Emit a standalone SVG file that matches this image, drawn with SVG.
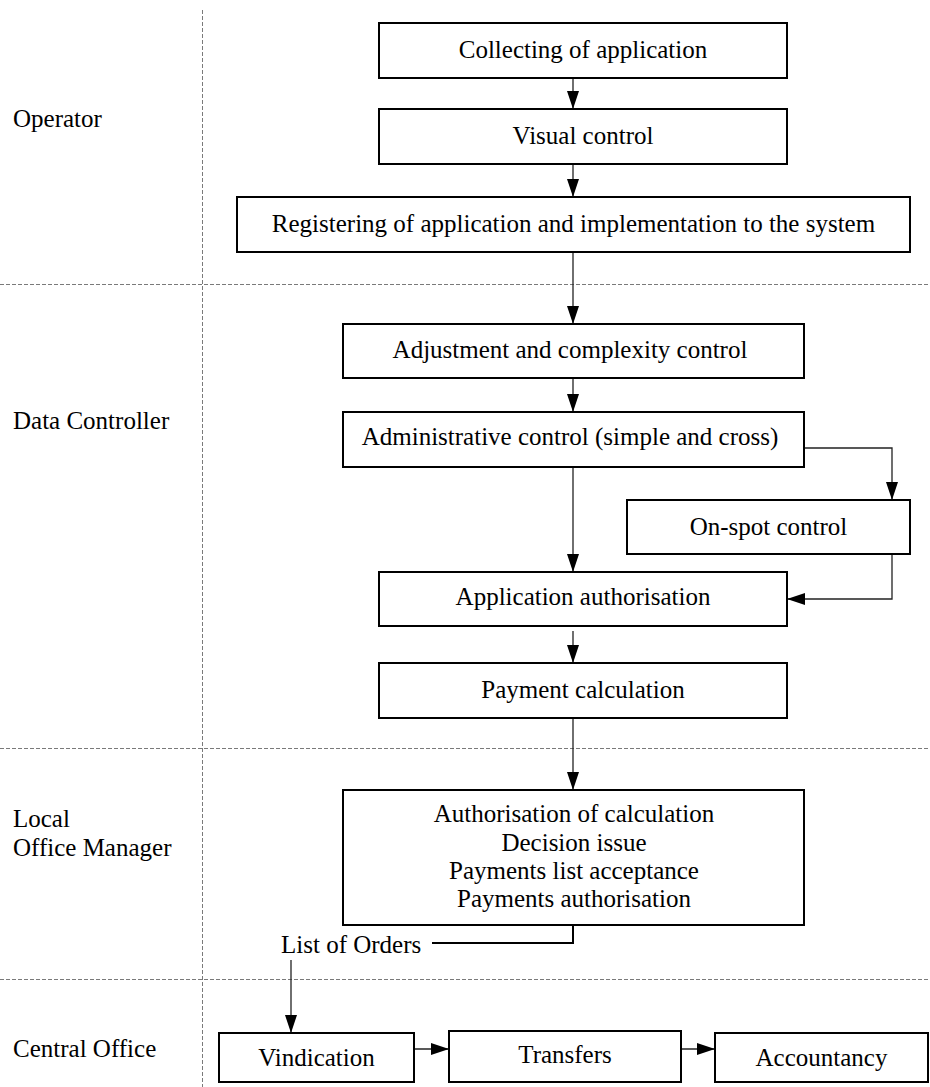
<svg xmlns="http://www.w3.org/2000/svg" width="930" height="1087" viewBox="0 0 930 1087">
  <style>
    .box { fill: #fff; stroke: #000; stroke-width: 2; }
    .lbl { font-family: "Liberation Serif", "Times New Roman", serif; font-size: 25px; fill: #000; }
    .mid { text-anchor: middle; }
    .lane { stroke: #7a7a7a; stroke-width: 1; stroke-dasharray: 4 2; fill: none; }
    .conn { stroke: #222; stroke-width: 1.3; fill: none; }
    .thick { stroke: #000; stroke-width: 2; fill: none; }
  </style>
  <defs>
    <marker id="arrow" markerUnits="userSpaceOnUse" markerWidth="18" markerHeight="12" refX="18" refY="6" orient="auto">
      <path d="M0,0 L18,6 L0,12 z" fill="#000"/>
    </marker>
  </defs>

  <rect width="930" height="1087" fill="#fff"/>

  <!-- swimlane separators -->
  <g id="lanes">
    <line class="lane" x1="202.5" y1="10" x2="202.5" y2="1087"/>
    <line class="lane" x1="0" y1="284.5" x2="930" y2="284.5"/>
    <line class="lane" x1="0" y1="748.5" x2="930" y2="748.5"/>
    <line class="lane" x1="0" y1="979.5" x2="930" y2="979.5"/>
  </g>

  <!-- lane titles -->
  <g id="lane-titles">
    <text class="lbl" x="13" y="127">Operator</text>
    <text class="lbl" x="13" y="429">Data Controller</text>
    <text class="lbl" x="13" y="827">Local</text>
    <text class="lbl" x="13" y="856">Office Manager</text>
    <text class="lbl" x="13" y="1057">Central Office</text>
  </g>

  <!-- connectors -->
  <g id="connectors">
    <line class="conn" x1="573" y1="78" x2="573" y2="109" marker-end="url(#arrow)"/>
    <line class="conn" x1="573" y1="164" x2="573" y2="197" marker-end="url(#arrow)"/>
    <line class="conn" x1="573" y1="252" x2="573" y2="324" marker-end="url(#arrow)"/>
    <line class="conn" x1="573" y1="378" x2="573" y2="412" marker-end="url(#arrow)"/>
    <line class="conn" x1="573" y1="467" x2="573" y2="572" marker-end="url(#arrow)"/>
    <polyline class="conn" points="804,448 892,448 892,500" marker-end="url(#arrow)"/>
    <polyline class="conn" points="892,554 892,599 787,599" marker-end="url(#arrow)"/>
    <line class="conn" x1="573" y1="631" x2="573" y2="663" marker-end="url(#arrow)"/>
    <line class="conn" x1="573" y1="718" x2="573" y2="790" marker-end="url(#arrow)"/>
    <polyline class="thick" points="573,925 573,943 432,943"/>
    <line class="conn" x1="291" y1="960" x2="291" y2="1033" marker-end="url(#arrow)"/>
    <line class="conn" x1="414" y1="1049" x2="449" y2="1049" marker-end="url(#arrow)"/>
    <line class="conn" x1="681" y1="1049" x2="715" y2="1049" marker-end="url(#arrow)"/>
  </g>

  <!-- process steps -->
  <g id="collecting">
    <rect class="box" x="379" y="23" width="408" height="55"/>
    <text class="lbl mid" x="583" y="58">Collecting of application</text>
  </g>
  <g id="visual-control">
    <rect class="box" x="379" y="109" width="408" height="55"/>
    <text class="lbl mid" x="583" y="144">Visual control</text>
  </g>
  <g id="registering">
    <rect class="box" x="237" y="197" width="673" height="55"/>
    <text class="lbl mid" x="573.5" y="231.5">Registering of application and implementation to the system</text>
  </g>
  <g id="adjustment">
    <rect class="box" x="343" y="324" width="461" height="54"/>
    <text class="lbl mid" x="570" y="358">Adjustment and complexity control</text>
  </g>
  <g id="administrative">
    <rect class="box" x="343" y="412" width="461" height="55"/>
    <text class="lbl mid" x="570" y="445">Administrative control (simple and cross)</text>
  </g>
  <g id="on-spot">
    <rect class="box" x="627" y="500" width="283" height="54"/>
    <text class="lbl mid" x="768.5" y="535">On-spot control</text>
  </g>
  <g id="application-authorisation">
    <rect class="box" x="379" y="572" width="408" height="54"/>
    <text class="lbl mid" x="583" y="605">Application authorisation</text>
  </g>
  <g id="payment-calculation">
    <rect class="box" x="379" y="663" width="408" height="55"/>
    <text class="lbl mid" x="583" y="698">Payment calculation</text>
  </g>
  <g id="manager-tasks">
    <rect class="box" x="343" y="790" width="461" height="135"/>
    <text class="lbl mid" x="574" y="822">Authorisation of calculation</text>
    <text class="lbl mid" x="574" y="851">Decision issue</text>
    <text class="lbl mid" x="574" y="879">Payments list acceptance</text>
    <text class="lbl mid" x="574" y="907">Payments authorisation</text>
  </g>
  <g id="list-of-orders">
    <text class="lbl" x="281" y="953">List of Orders</text>
  </g>
  <g id="vindication">
    <rect class="box" x="219" y="1033" width="195" height="49"/>
    <text class="lbl mid" x="316.5" y="1066">Vindication</text>
  </g>
  <g id="transfers">
    <rect class="box" x="449" y="1031" width="232" height="51"/>
    <text class="lbl mid" x="565" y="1063">Transfers</text>
  </g>
  <g id="accountancy">
    <rect class="box" x="715" y="1033" width="213" height="49"/>
    <text class="lbl mid" x="821.5" y="1066">Accountancy</text>
  </g>
</svg>
